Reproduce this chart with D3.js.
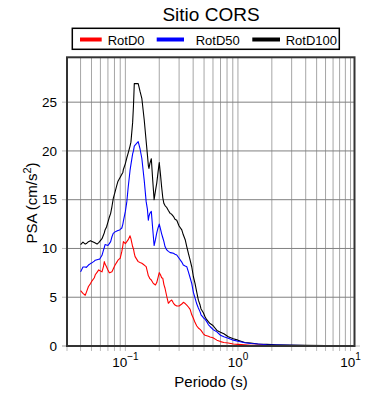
<!DOCTYPE html>
<html>
<head>
<meta charset="utf-8">
<script src="https://cdn.jsdelivr.net/npm/d3@7"></script>
<style>
  body { margin: 0; background: white; }
  text { font-family: "Liberation Sans", Arial, sans-serif; }
</style>
</head>
<body>
<div id="chart"></div>
<script>
// periods (s)
const periods = [
    0.040, 0.042, 0.044, 0.045, 0.047, 0.049, 0.050, 0.053, 0.054, 0.056,
    0.058, 0.059, 0.062, 0.064, 0.065, 0.066, 0.068, 0.070, 0.072, 0.074,
    0.076, 0.078, 0.081, 0.084, 0.086, 0.089, 0.090, 0.093, 0.095, 0.096,
    0.100, 0.103, 0.106, 0.110, 0.112, 0.116, 0.118, 0.120, 0.122, 0.130,
    0.135, 0.140, 0.147, 0.153, 0.157, 0.160, 0.162, 0.165, 0.170, 0.175,
    0.180, 0.185, 0.190, 0.195, 0.200, 0.205, 0.210, 0.215, 0.220, 0.225,
    0.233, 0.241, 0.250, 0.258, 0.267, 0.276, 0.286, 0.300, 0.317, 0.327,
    0.340, 0.351, 0.363, 0.376, 0.389, 0.402, 0.416, 0.431, 0.445, 0.461,
    0.470, 0.493, 0.510, 0.528, 0.546, 0.565, 0.60, 0.65, 0.70, 0.75,
    0.82, 0.91, 1.0, 1.15, 1.3, 1.5, 1.8, 2.2, 2.9, 4,
    6, 10
];

const rotD100 = [
    10.4, 10.65, 10.45, 10.5, 10.7, 10.8, 10.75, 10.6, 10.55, 10.45,
    10.6, 10.7, 11.0, 11.4, 11.6, 11.9, 12.2, 12.7, 13.2, 13.6,
    14.3, 15.1, 15.8, 16.5, 16.9, 17.2, 17.3, 17.6, 17.8, 18.1,
    18.7, 19.3, 19.8, 20.5, 20.9, 22.9, 24.6, 26.9, 26.9, 26.9,
    26.1, 25.4, 23.2, 21.0, 19.6, 18.5, 18.2, 18.7, 19.2, 17.0,
    15.0, 15.9, 16.7, 17.8, 18.8, 17.6, 16.3, 15.2, 14.6, 14.4,
    14.2, 13.9, 13.6, 13.5, 13.3, 13.0, 12.9, 12.3, 11.9, 11.4,
    10.9, 10.2, 9.5, 8.8, 8.1, 7.1, 6.4, 5.5, 4.7, 4.2,
    3.8, 3.4, 3.0, 2.7, 2.5, 2.3, 2.1, 1.6, 1.4, 1.25,
    0.95, 0.75, 0.6, 0.36, 0.3, 0.2, 0.17, 0.13, 0.1, 0.07,
    0.04, 0.03
];

const rotD50 = [
    7.6, 8.1, 8.1, 8.05, 8.3, 8.45, 8.5, 8.7, 8.8, 8.85,
    8.9, 8.9, 9.3, 9.85, 10.1, 10.4, 10.35, 10.3, 10.5, 10.7,
    11.2, 11.55, 11.7, 11.8, 11.85, 11.9, 11.95, 12.1, 12.5, 12.8,
    13.8, 14.8, 16.3, 18.0, 18.6, 19.7, 20.0, 20.5, 20.6, 20.95,
    20.2, 19.25, 17.0, 14.8, 14.0, 12.9, 13.3, 13.6, 13.8, 12.0,
    10.3, 10.9, 11.6, 12.1, 12.5, 12.0, 11.5, 11.1, 10.7, 10.2,
    9.85, 9.7, 9.57, 9.55, 9.5, 9.4, 9.33, 9.0, 8.6, 8.3,
    8.2, 8.13, 7.6, 7.0, 6.4, 5.5, 4.9, 4.3, 3.9, 3.5,
    3.2, 2.9, 2.75, 2.5, 2.2, 2.0, 1.7, 1.45, 1.1, 0.95,
    0.8, 0.6, 0.48, 0.34, 0.25, 0.2, 0.13, 0.1, 0.08, 0.05,
    0.03, 0.02
];

const rotD0 = [
    5.67, 5.4, 5.2, 5.5, 6.1, 6.4, 6.6, 7.0, 7.3, 7.55,
    7.8, 7.75, 7.6, 8.2, 8.65, 8.4, 8.13, 7.8, 7.5, 7.55,
    7.62, 7.9, 8.3, 8.6, 8.8, 8.95, 9.0, 9.7, 10.3, 10.7,
    10.5, 10.7, 10.9, 11.3, 11.0, 10.2, 9.95, 9.5, 9.16, 8.65,
    8.55, 8.48, 8.3, 8.13, 7.6, 7.2, 7.1, 6.9, 6.77, 6.5,
    6.35, 6.26, 6.5, 7.0, 7.52, 7.3, 7.0, 6.94, 6.3, 5.92,
    5.1, 4.38, 4.6, 4.72, 4.4, 4.2, 4.1, 4.1, 4.3, 4.48,
    4.35, 4.2, 4.0, 3.75, 3.2, 2.84, 2.4, 2.05, 1.85, 1.7,
    1.6, 1.25, 1.1, 1.05, 1.0, 0.93, 0.85, 0.6, 0.45, 0.36,
    0.3, 0.2, 0.17, 0.12, 0.08, 0.07, 0.05, 0.04, 0.03, 0.02,
    0.02, 0.01
];

const seriesNames = ["RotD0", "RotD50", "RotD100"];
const seriesColors = ["#ff0000", "#0000ff", "#000000"];
const yTicks = [0, 5, 10, 15, 20, 25];
const xMajor = [0.1, 1, 10];
const xGrid = [0.04, 0.05, 0.06, 0.07, 0.08, 0.09,
    0.1, 0.2, 0.3, 0.4, 0.5, 0.6, 0.7, 0.8, 0.9,
    1, 2, 3, 4, 5, 6, 7, 8, 9, 10];

const width = 390,
    height = 400,
    margin = ({ top: 57.3, right: 35.5, bottom: 54, left: 67 });

const svg = d3.select("#chart")
    .append("svg")
    .attr("width", width)
    .attr("height", height)
    .attr("viewBox", [0, 0, width, height]);

const x = d3.scaleLog()
    .domain([0.0303, 10.85])
    .range([margin.left, width - margin.right]);

const y = d3.scaleLinear()
    .domain([0, 29.6])
    .range([height - margin.bottom, margin.top]);

const x0 = margin.left, x1 = width - margin.right,
    y0 = height - margin.bottom, y1 = margin.top;

// axis lines + outward ticks (light gray)
svg.append("line")
    .attr("x1", 62).attr("x2", 360)
    .attr("y1", y0).attr("y2", y0)
    .attr("stroke", "#bbb");
svg.append("line")
    .attr("x1", x0).attr("x2", x0)
    .attr("y1", y1).attr("y2", y0 + 5)
    .attr("stroke", "#bbb");

svg.append("g")
    .selectAll("line")
    .data(xGrid)
    .join("line")
    .attr("x1", d => x(d)).attr("x2", d => x(d))
    .attr("y1", y0).attr("y2", y0 + 5)
    .attr("stroke", "#bbb");

svg.append("g")
    .selectAll("line")
    .data(yTicks)
    .join("line")
    .attr("x1", x0 - 5).attr("x2", x0)
    .attr("y1", d => y(d)).attr("y2", d => y(d))
    .attr("stroke", "#bbb");

// grid
svg.append("g")
    .selectAll("line")
    .data(xGrid)
    .join("line")
    .attr("x1", d => x(d)).attr("x2", d => x(d))
    .attr("y1", y1).attr("y2", y0)
    .attr("stroke", "#a6a6a6")
    .attr("stroke-width", 1);

svg.append("g")
    .selectAll("line")
    .data(yTicks.filter(d => d > 0))
    .join("line")
    .attr("x1", x0).attr("x2", x1)
    .attr("y1", d => y(d)).attr("y2", d => y(d))
    .attr("stroke", "#808080")
    .attr("stroke-width", 1);

// tick labels
svg.append("g")
    .selectAll("text")
    .data(yTicks)
    .join("text")
    .attr("x", 57)
    .attr("y", d => y(d) + 4.7)
    .attr("text-anchor", "end")
    .attr("font-size", 13.5)
    .text(d => d);

const xl = svg.append("g")
    .selectAll("text")
    .data(xMajor)
    .join("text")
    .attr("x", d => x(d))
    .attr("y", 366.5)
    .attr("text-anchor", "middle")
    .attr("font-size", 13.5);
xl.append("tspan").text("10");
xl.append("tspan")
    .attr("dy", -7)
    .attr("font-size", 10)
    .text(d => Math.round(Math.log10(d)) < 0 ? "\u22121" : String(Math.round(Math.log10(d))));

// curves
const data = [rotD0, rotD50, rotD100];

svg.append("clipPath")
    .attr("id", "clip")
    .append("rect")
    .attr("x", x0).attr("y", y1)
    .attr("width", x1 - x0).attr("height", y0 - y1);

const line = d3.line()
    .x((d, i) => x(periods[i]))
    .y(d => y(d));

svg.append("g")
    .attr("clip-path", "url(#clip)")
    .selectAll("path")
    .data([2, 1, 0])
    .join("path")
    .attr("d", k => line(data[k]))
    .attr("fill", "none")
    .attr("stroke", k => seriesColors[k])
    .attr("stroke-width", 1.1)
    .attr("stroke-linejoin", "round");

// frame
svg.append("rect")
    .attr("x", x0).attr("y", y1)
    .attr("width", x1 - x0).attr("height", y0 - y1)
    .attr("fill", "none")
    .attr("stroke", "#333")
    .attr("stroke-width", 2);

// title
svg.append("text")
    .attr("x", 211)
    .attr("y", 20.5)
    .attr("text-anchor", "middle")
    .attr("font-size", 19)
    .text("Sitio CORS");

// axis titles
svg.append("text")
    .attr("x", 211)
    .attr("y", 387)
    .attr("text-anchor", "middle")
    .attr("font-size", 15)
    .text("Periodo (s)");

const yt = svg.append("text")
    .attr("transform", "translate(36.5,203) rotate(-90)")
    .attr("text-anchor", "middle")
    .attr("font-size", 15);
yt.append("tspan").text("PSA (cm/s");
yt.append("tspan").attr("dy", -6).attr("font-size", 11).text("2");
yt.append("tspan").attr("dy", 6).text(")");

// legend
svg.append("rect")
    .attr("x", 72.3).attr("y", 28.3)
    .attr("width", 267).attr("height", 21)
    .attr("fill", "white")
    .attr("stroke", "black")
    .attr("stroke-width", 1.5);

const legLine = [[80, 101.7], [156.7, 184], [252.3, 280]];
const legText = [107.7, 195.7, 285.7];

const leg = svg.append("g")
    .selectAll("g")
    .data(seriesNames)
    .join("g");

leg.append("line")
    .attr("x1", (d, i) => legLine[i][0])
    .attr("x2", (d, i) => legLine[i][1])
    .attr("y1", 39.5).attr("y2", 39.5)
    .attr("stroke", (d, i) => seriesColors[i])
    .attr("stroke-width", 4);

leg.append("text")
    .attr("x", (d, i) => legText[i])
    .attr("y", 44.5)
    .attr("font-size", 13)
    .text(d => d);
</script>
</body>
</html>
